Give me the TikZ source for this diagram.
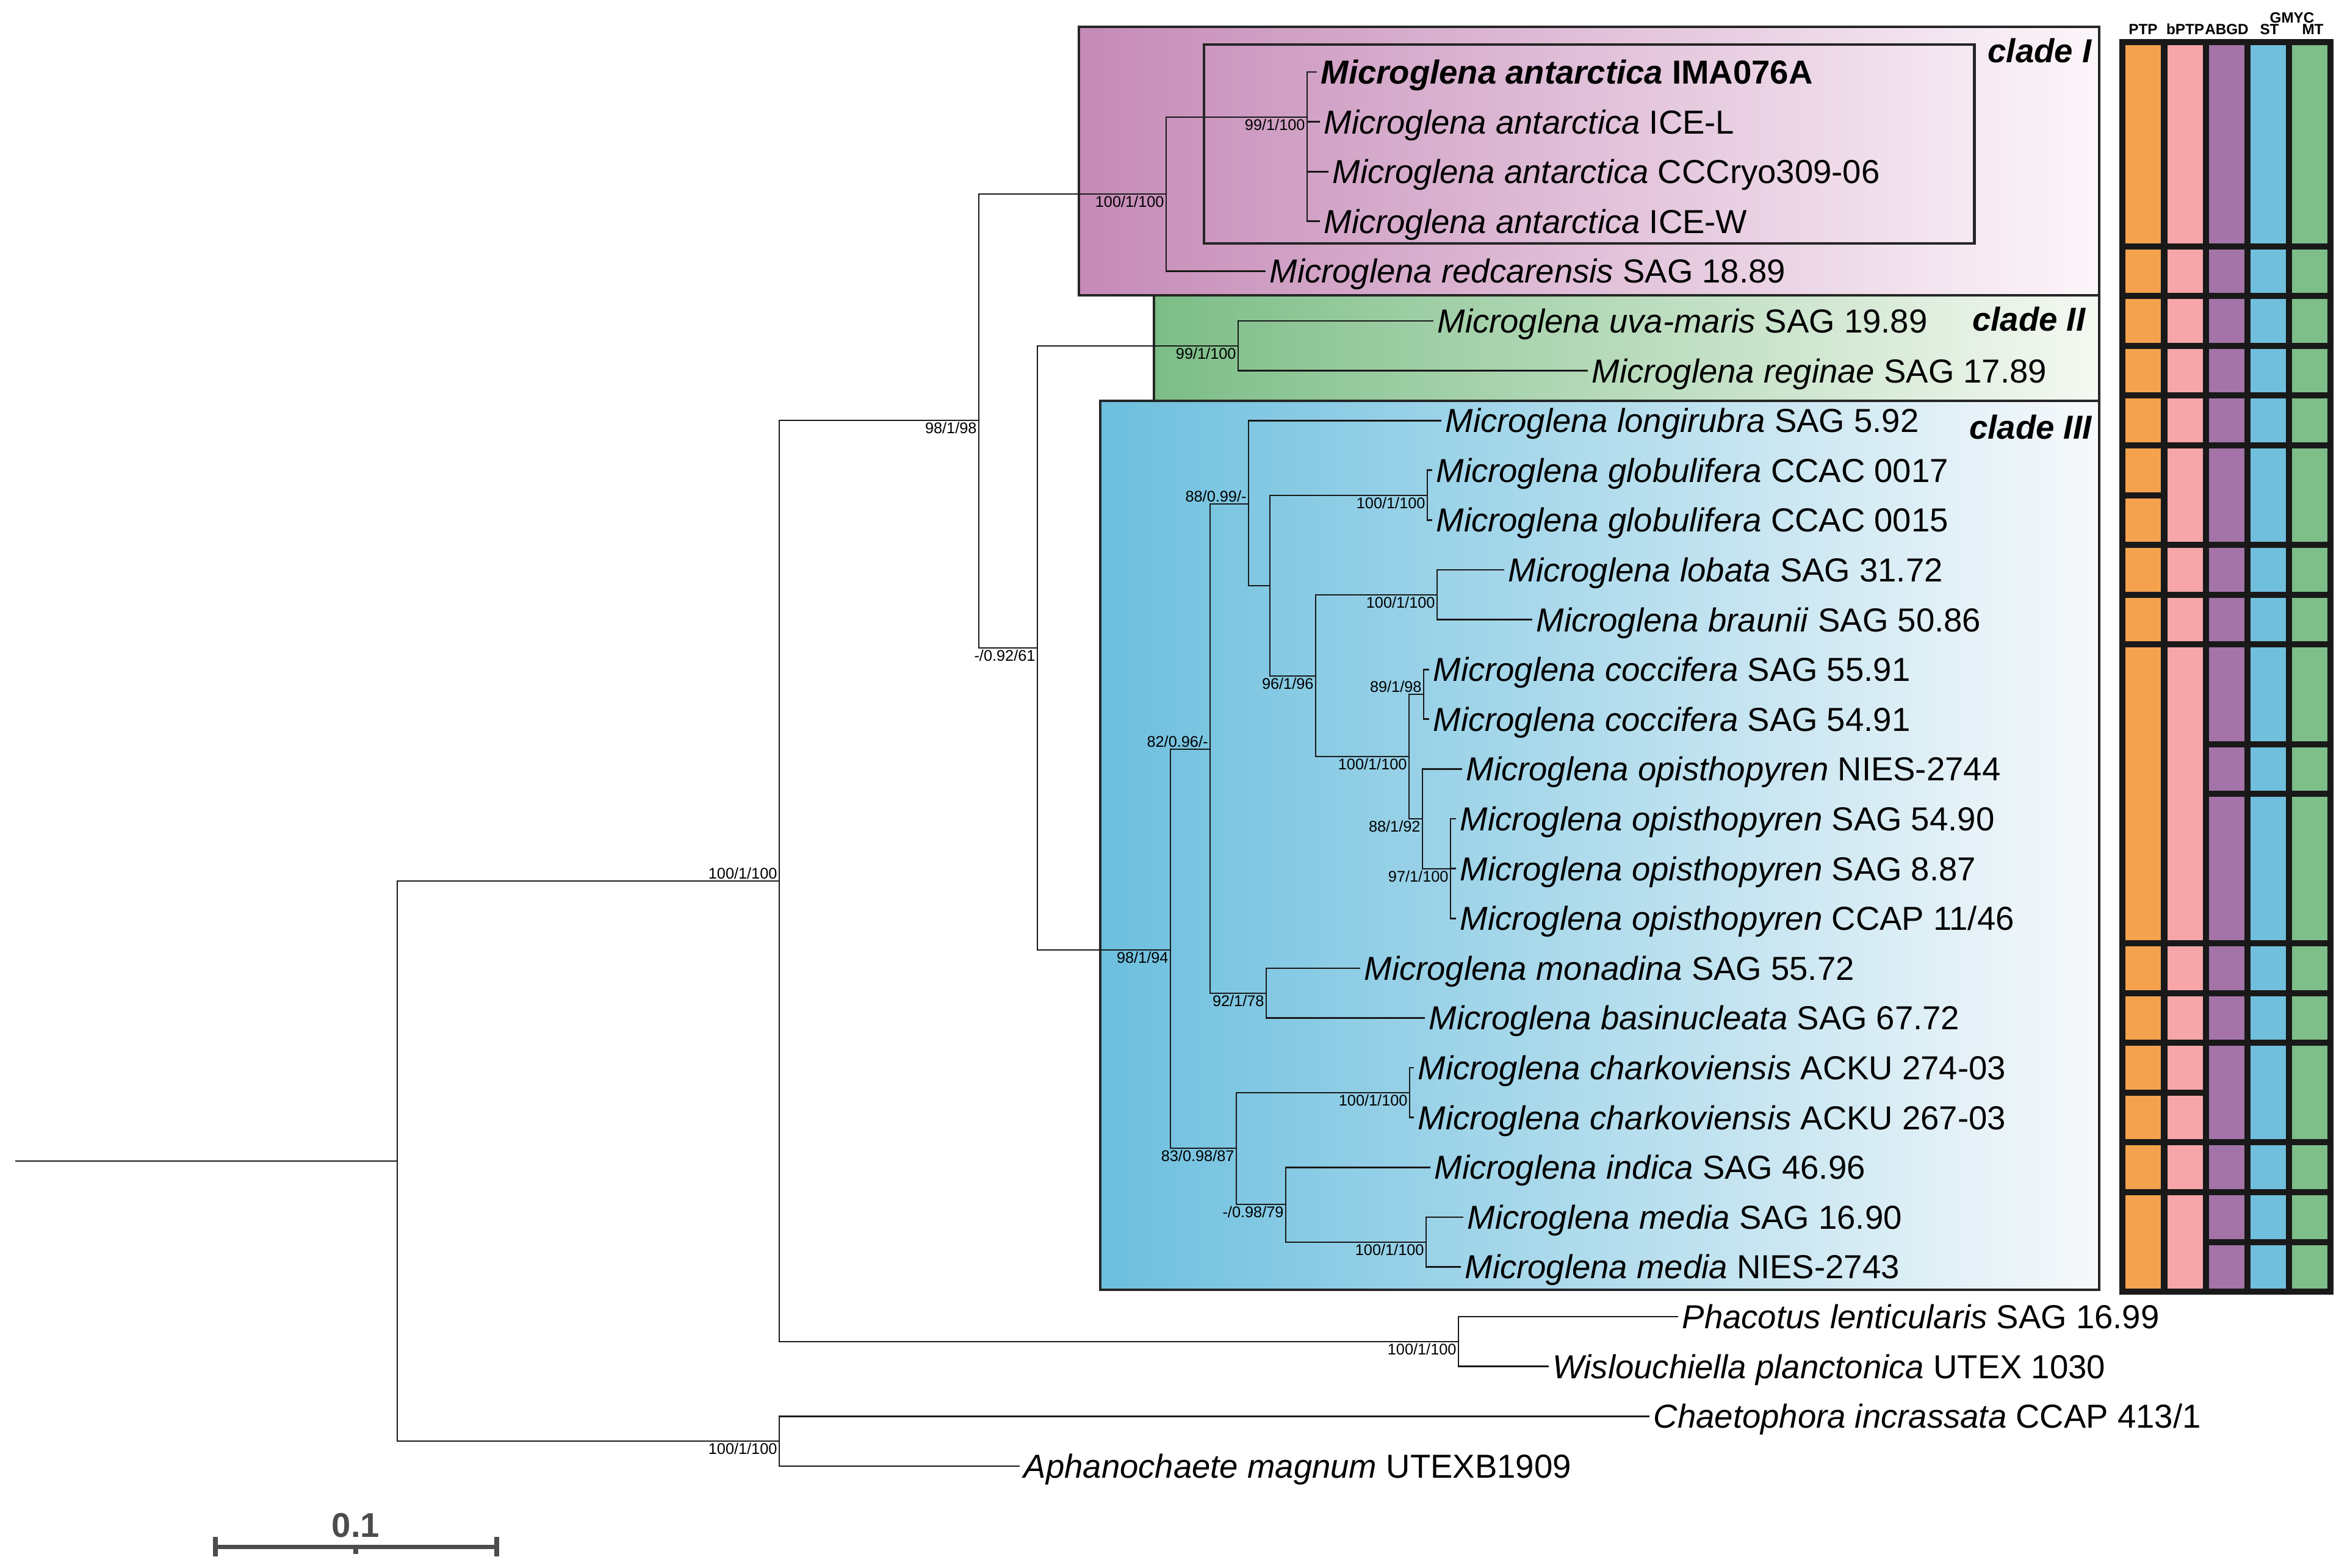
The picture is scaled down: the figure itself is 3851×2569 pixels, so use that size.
\documentclass[tikz,border=0pt]{standalone}
\usepackage{fontspec}
\setmainfont{Liberation Sans}
\usepackage{tikz}

\definecolor{ptpc}{HTML}{F4A24E}
\definecolor{bptpc}{HTML}{F6A6A9}
\definecolor{abgdc}{HTML}{A474A8}
\definecolor{stc}{HTML}{70BFDD}
\definecolor{mtc}{HTML}{7EBE89}
\definecolor{cIa}{HTML}{C58AB7}
\definecolor{cIb}{HTML}{FCF6FA}
\definecolor{cIIa}{HTML}{7CBD86}
\definecolor{cIIb}{HTML}{F5F9F2}
\definecolor{cIIIa}{HTML}{6CBFDE}
\definecolor{cIIIb}{HTML}{F7F9FB}

\begin{document}
\begin{tikzpicture}[x=0.01cm, y=-0.01cm,
        branch/.style={line width=0.75pt, black!90},
        leaf/.style={anchor=west, inner xsep=0.6mm, inner ysep=0pt, text height=11.1pt, text depth=0pt, font=\fontsize{15.5}{18}\selectfont},
        sup/.style={inner sep=0.8pt, font=\fontsize{7.2}{8}\selectfont},
        cladebox/.style={line width=1.1pt, draw=black!85},
        cladelab/.style={anchor=east, inner sep=0pt, text height=11.1pt, text depth=0pt, font=\fontsize{15.5}{18}\selectfont\bfseries\itshape},
        hdr/.style={inner sep=0pt, font=\fontsize{6.9}{8}\selectfont\bfseries},
        scalebar/.style={line width=2pt, black!70}]
        \useasboundingbox (0,0) rectangle (3851,2569);

        % Clade boxes
        \draw[cladebox, left color=cIa, right color=cIb] (1768,44) rectangle (3440,484);
        \draw[cladebox, left color=cIIa, right color=cIIb] (1891,484) rectangle (3440,657);
        \draw[cladebox, left color=cIIIa, right color=cIIIb] (1803,657) rectangle (3440,2114);
        \draw[line width=1.4pt, black!85] (1973,73) rectangle (3235,399);
        \node[cladelab] (labI) at (3428,83) {clade I};
        \node[cladelab] (labII) at (3418,523) {clade II};
        \node[cladelab] (labIII) at (3428,700) {clade III};

        % Internal nodes
        \coordinate (root) at (25,1903);
        \coordinate (base) at (651,1903);
        \coordinate (ingrp) at (1277,1444);
        \coordinate (outgrp) at (1277,2362);
        \coordinate (micro) at (1604,689);
        \coordinate (phaco) at (2390,2199);
        \coordinate (cI) at (1911,318);
        \coordinate (antarc) at (2142,192);
        \coordinate (c23) at (1700,1062);
        \coordinate (cII) at (2029,567);
        \coordinate (cIII) at (1918,1557);
        \coordinate (cIIIa) at (1983,1228);
        \coordinate (cIIIb) at (2046,826);
        \coordinate (cIIIc) at (2081,960);
        \coordinate (glob) at (2339,812);
        \coordinate (cIIId) at (2156,1108);
        \coordinate (lobbra) at (2355,975);
        \coordinate (coccopi) at (2309,1240);
        \coordinate (cocc) at (2333,1138);
        \coordinate (opis) at (2331,1342);
        \coordinate (opisb) at (2377,1424);
        \coordinate (monbas) at (2075,1628);
        \coordinate (cIIIe) at (2026,1882);
        \coordinate (chark) at (2310,1791);
        \coordinate (indmed) at (2107,1974);
        \coordinate (media) at (2337,2036);

        % Leaves
        \node[leaf] (l1) at (2158,118) {\textbf{\textit{Microglena antarctica} IMA076A}};
        \node[leaf] (l2) at (2163,199.6) {\textit{Microglena antarctica} ICE-L};
        \node[leaf] (l3) at (2177,281.2) {\textit{Microglena antarctica} CCCryo309-06};
        \node[leaf] (l4) at (2163,362.8) {\textit{Microglena antarctica} ICE-W};
        \node[leaf] (l5) at (2074,444.4) {\textit{Microglena redcarensis} SAG 18.89};
        \node[leaf] (l6) at (2349,526) {\textit{Microglena uva-maris} SAG 19.89};
        \node[leaf] (l7) at (2602,607.6) {\textit{Microglena reginae} SAG 17.89};
        \node[leaf] (l8) at (2362,689.2) {\textit{Microglena longirubra} SAG 5.92};
        \node[leaf] (l9) at (2347,770.8) {\textit{Microglena globulifera} CCAC 0017};
        \node[leaf] (l10) at (2347,852.4) {\textit{Microglena globulifera} CCAC 0015};
        \node[leaf] (l11) at (2465,934) {\textit{Microglena lobata} SAG 31.72};
        \node[leaf] (l12) at (2511,1015.6) {\textit{Microglena braunii} SAG 50.86};
        \node[leaf] (l13) at (2342,1097.2) {\textit{Microglena coccifera} SAG 55.91};
        \node[leaf] (l14) at (2342,1178.8) {\textit{Microglena coccifera} SAG 54.91};
        \node[leaf] (l15) at (2396,1260.4) {\textit{Microglena opisthopyren} NIES-2744};
        \node[leaf] (l16) at (2386,1342) {\textit{Microglena opisthopyren} SAG 54.90};
        \node[leaf] (l17) at (2386,1423.6) {\textit{Microglena opisthopyren} SAG 8.87};
        \node[leaf] (l18) at (2386,1505.2) {\textit{Microglena opisthopyren} CCAP 11/46};
        \node[leaf] (l19) at (2229,1586.8) {\textit{Microglena monadina} SAG 55.72};
        \node[leaf] (l20) at (2335,1668.4) {\textit{Microglena basinucleata} SAG 67.72};
        \node[leaf] (l21) at (2317,1750) {\textit{Microglena charkoviensis} ACKU 274-03};
        \node[leaf] (l22) at (2317,1831.6) {\textit{Microglena charkoviensis} ACKU 267-03};
        \node[leaf] (l23) at (2344,1913.2) {\textit{Microglena indica} SAG 46.96};
        \node[leaf] (l24) at (2398,1994.8) {\textit{Microglena media} SAG 16.90};
        \node[leaf] (l25) at (2394,2076.4) {\textit{Microglena media} NIES-2743};
        \node[leaf] (l26) at (2750,2158) {\textit{Phacotus lenticularis} SAG 16.99};
        \node[leaf] (l27) at (2538,2239.6) {\textit{Wislouchiella planctonica} UTEX 1030};
        \node[leaf] (l28) at (2703,2321.2) {\textit{Chaetophora incrassata} CCAP 413/1};
        \node[leaf] (l29) at (1671,2402.8) {\textit{Aphanochaete magnum} UTEXB1909};

        % Branches
        \draw[branch] (root) -- (base);
        \foreach \p/\q in {base/ingrp, base/outgrp, ingrp/micro, ingrp/phaco, outgrp/l28, outgrp/l29,
                micro/cI, micro/c23, cI/antarc, cI/l5, antarc/l1, antarc/l2, antarc/l3, antarc/l4,
                c23/cII, c23/cIII, cII/l6, cII/l7, cIII/cIIIa, cIII/cIIIe, cIIIa/cIIIb, cIIIa/monbas,
                cIIIb/l8, cIIIb/cIIIc, cIIIc/glob, cIIIc/cIIId, glob/l9, glob/l10, cIIId/lobbra, cIIId/coccopi,
                lobbra/l11, lobbra/l12, coccopi/cocc, coccopi/opis, cocc/l13, cocc/l14, opis/l15, opis/opisb,
                opisb/l16, opisb/l17, opisb/l18, monbas/l19, monbas/l20, cIIIe/chark, cIIIe/indmed,
                chark/l21, chark/l22, indmed/l23, indmed/media, media/l24, media/l25, phaco/l26, phaco/l27}
            \draw[branch] (\p) |- (\q);

        % Support values
        \foreach \nd/\an/\txt in {cI/north east/{100/1/100}, antarc/north east/{99/1/100},
                micro/north east/{98/1/98}, c23/north east/{-/0.92/61}, cII/north east/{99/1/100},
                cIII/north east/{98/1/94}, cIIIa/south east/{82/0.96/-}, cIIIb/south east/{88/0.99/-},
                glob/north east/{100/1/100}, lobbra/north east/{100/1/100}, cIIId/north east/{96/1/96},
                cocc/south east/{89/1/98}, coccopi/north east/{100/1/100}, opis/north east/{88/1/92},
                opisb/north east/{97/1/100}, monbas/north east/{92/1/78}, cIIIe/north east/{83/0.98/87},
                chark/north east/{100/1/100}, indmed/north east/{-/0.98/79}, media/north east/{100/1/100},
                phaco/north east/{100/1/100}, ingrp/south east/{100/1/100}, outgrp/north east/{100/1/100}}
            \node[sup, anchor=\an] (s-\nd) at (\nd) {\txt};

        % Species delimitation columns
        \fill[black!90] (3473,64) rectangle (3824,2122);
        \foreach \a/\b in {1/4,5/5,6/6,7/7,8/8,9/9,10/10,11/11,12/12,13/18,19/19,20/20,21/21,22/22,23/23,24/25} {
            \pgfmathsetmacro\yt{ifthenelse(\a==1,74,36.4+81.6*(\a-0.5)+5)}
            \pgfmathsetmacro\yb{36.4+81.6*(\b+0.5)-5}
            \fill[ptpc] (3483,\yt) rectangle (3541,\yb);
        }
        \foreach \a/\b in {1/4,5/5,6/6,7/7,8/8,9/10,11/11,12/12,13/18,19/19,20/20,21/21,22/22,23/23,24/25} {
            \pgfmathsetmacro\yt{ifthenelse(\a==1,74,36.4+81.6*(\a-0.5)+5)}
            \pgfmathsetmacro\yb{36.4+81.6*(\b+0.5)-5}
            \fill[bptpc] (3552,\yt) rectangle (3610,\yb);
        }
        \foreach \col/\clr in {2/abgdc,3/stc,4/mtc} {
            \foreach \a/\b in {1/4,5/5,6/6,7/7,8/8,9/10,11/11,12/12,13/14,15/15,16/18,19/19,20/20,21/22,23/23,24/24,25/25} {
                \pgfmathsetmacro\xl{3483+68.3*\col}
                \pgfmathsetmacro\yt{ifthenelse(\a==1,74,36.4+81.6*(\a-0.5)+5)}
                \pgfmathsetmacro\yb{36.4+81.6*(\b+0.5)-5}
                \fill[\clr] (\xl,\yt) rectangle ({\xl+58},\yb);
            }
        }
        % Column headers
        \foreach \lab/\x in {PTP/3512, bPTP/3581, ABGD/3649, ST/3719, MT/3790}
            \node[hdr] (h-\lab) at (\x,48) {\lab};
        \node[hdr] (h-GMYC) at (3756,29) {GMYC};

        % Scale bar
        \coordinate (sb0) at (353,2535);
        \coordinate (sb1) at (814,2535);
        \draw[scalebar] (sb0) -- (sb1);
        \draw[scalebar] (353,2519) -- (353,2551);
        \draw[scalebar] (814,2519) -- (814,2551);
        \draw[scalebar] (583,2535) -- (583,2547);
        \node[font=\fontsize{16}{18}\selectfont\bfseries, text=black!70] (sblab) at (583,2500) {0.1};
    \end{tikzpicture}
\end{document}
